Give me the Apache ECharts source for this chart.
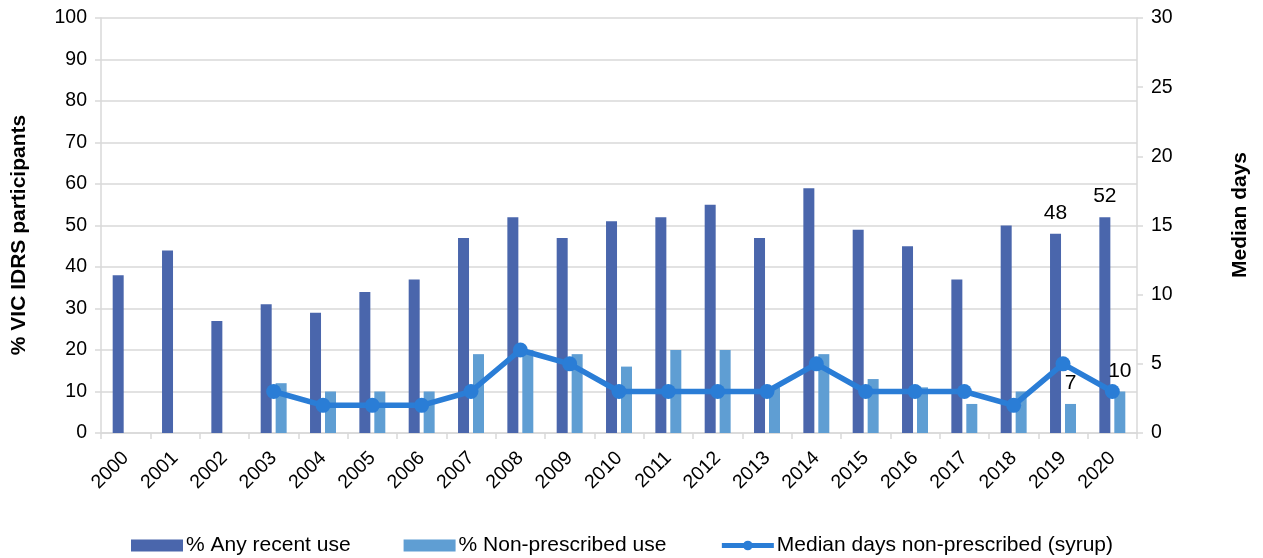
<!DOCTYPE html>
<html><head><meta charset="utf-8">
<script src="https://cdn.jsdelivr.net/npm/echarts@6/dist/echarts.min.js"></script>
<style>html,body{margin:0;padding:0;background:#fff}#c{width:1263px;height:558px}</style>
</head><body><div id="c"></div>
<script>
const years = ['2000','2001','2002','2003','2004','2005','2006','2007','2008','2009','2010','2011','2012','2013','2014','2015','2016','2017','2018','2019','2020'];
const anyUse = [38,44,27,31,29,34,37,47,52,47,51,52,55,47,59,49,45,37,50,48,52];
const nonPrescribed = [null,null,null,12,10,10,10,19,20,19,16,20,20,11,19,13,11,7,10,7,10];
const medianDays = [null,null,null,3,2,2,2,3,6,5,3,3,3,3,5,3,3,3,2,5,3];
const labeledYears = ['2019','2020'];
const leftTicks = {min:0,max:100,interval:10};
const rightTicks = {min:0,max:30,interval:5};
const leftTitle = '% VIC IDRS participants';
const rightTitle = 'Median days';

const FONT = 'Liberation Sans, Arial, sans-serif';
const FS = 19.5;
const LFS = 21;
function withLabels(arr){
  return arr.map((v,i)=> labeledYears.includes(years[i]) ? {value:v,label:{show:true}} : v);
}
const chart = echarts.init(document.getElementById('c'));
chart.setOption({
  animation:false,
  textStyle:{fontFamily:FONT},
  grid:{left:101,right:126,top:18,bottom:125,containLabel:false},
  graphic:[
    {type:'text',x:19,y:235,rotation:Math.PI/2,
     style:{text:leftTitle,font:'bold '+LFS+'px '+FONT,fill:'#000',align:'center',verticalAlign:'middle'}},
    {type:'text',x:1240,y:215,rotation:Math.PI/2,
     style:{text:rightTitle,font:'bold '+LFS+'px '+FONT,fill:'#000',align:'center',verticalAlign:'middle'}}
  ],
  legend:{
    top:530,left:126,itemGap:53,itemWidth:52,itemHeight:12,
    textStyle:{fontSize:LFS,color:'#000',fontFamily:FONT,padding:[0,0,0,-2]},
    data:[
      {name:'% Any recent use',icon:'rect'},
      {name:'% Non-prescribed use',icon:'rect'},
      {name:'Median days non-prescribed (syrup)',lineStyle:{width:5}}
    ]
  },
  xAxis:{
    type:'category',data:years,boundaryGap:true,
    axisLine:{lineStyle:{color:'#d9d9d9',width:1.5}},
    axisTick:{show:true,alignWithLabel:false,length:6,lineStyle:{color:'#d9d9d9',width:1.5}},
    axisLabel:{rotate:45,fontSize:FS,color:'#000',fontFamily:FONT,margin:22,interval:0}
  },
  yAxis:[
    {type:'value',min:leftTicks.min,max:leftTicks.max,interval:leftTicks.interval,
     axisLine:{show:true,lineStyle:{color:'#d9d9d9',width:1.5}},
     axisTick:{show:true,length:6,lineStyle:{color:'#d9d9d9',width:1.5}},
     axisLabel:{fontSize:FS,color:'#000',fontFamily:FONT,margin:14},
     splitLine:{lineStyle:{color:'#d9d9d9',width:1.5}}},
    {type:'value',min:rightTicks.min,max:rightTicks.max,interval:rightTicks.interval,position:'right',
     axisLine:{show:true,lineStyle:{color:'#d9d9d9',width:1.5}},
     axisTick:{show:true,length:6,lineStyle:{color:'#d9d9d9',width:1.5}},
     axisLabel:{fontSize:FS,color:'#000',fontFamily:FONT,margin:14},
     splitLine:{show:false}}
  ],
  series:[
    {name:'% Any recent use',type:'bar',data:withLabels(anyUse),barWidth:11,barGap:'36%',
     itemStyle:{color:'#4a66ac'},
     label:{show:false,position:'top',fontSize:LFS,color:'#000',distance:10,fontFamily:FONT}},
    {name:'% Non-prescribed use',type:'bar',data:withLabels(nonPrescribed),barWidth:11,
     itemStyle:{color:'#5f9ed3'},
     label:{show:false,position:'top',fontSize:LFS,color:'#000',distance:10,fontFamily:FONT}},
    {name:'Median days non-prescribed (syrup)',type:'line',yAxisIndex:1,data:medianDays,
     symbol:'circle',symbolSize:15,connectNulls:false,
     lineStyle:{color:'#2a7dd6',width:5.5},itemStyle:{color:'#2a7dd6'},z:5}
  ]
});
</script></body></html>
